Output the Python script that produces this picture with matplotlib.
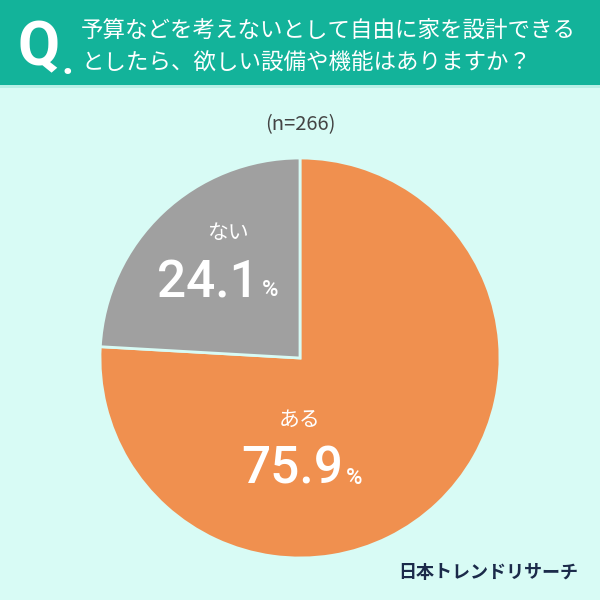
import matplotlib
matplotlib.use('Agg')
import matplotlib.pyplot as plt
from matplotlib.patches import Rectangle

plt.rcParams['font.family'] = ['Noto Sans CJK JP', 'DejaVu Sans']

# データ
labels = ['ある', 'ない']
values = [75.9, 24.1]
colors = ['#f0904f', '#a0a0a0']
question = ['予算などを考えないとして自由に家を設計できる',
            'としたら、欲しい設備や機能はありますか？']
n_text = '(n=266)'
source = '日本トレンドリサーチ'

bg = '#d8fbf5'
teal = '#13b39a'
num_font = ['Roboto', 'DejaVu Sans']

fig = plt.figure(figsize=(6, 6), dpi=100)
fig.patch.set_facecolor(bg)

# ヘッダー
fig.patches.append(Rectangle((0, 1 - 85 / 600), 1, 85 / 600, transform=fig.transFigure,
                             facecolor=teal, edgecolor='none', zorder=0))
fig.patches.append(Rectangle((0, 1 - 88 / 600), 1, 3 / 600, transform=fig.transFigure,
                             facecolor='#b8f0e6', edgecolor='none', zorder=0))
fig.text(18 / 600, 1 - 48 / 600, 'Q', color='white', fontsize=44, fontweight='bold',
         ha='left', va='center', family=num_font)
fig.text(62 / 600, 1 - 62 / 600, '.', color='white', fontsize=30, fontweight='bold',
         ha='left', va='center', family=num_font)
fig.text(81 / 600, 1 - 30 / 600, question[0], color='white', fontsize=16.2,
         ha='left', va='center')
fig.text(81 / 600, 1 - 63 / 600, question[1], color='white', fontsize=16.2,
         ha='left', va='center')

fig.text(0.5, 1 - 125 / 600, n_text, color='#444444', fontsize=14.5,
         ha='center', va='center')

# 円グラフ
r = 200 / 600
cy = 1 - 358 / 600
ax = fig.add_axes([0.5 - r, cy - r, 2 * r, 2 * r])
ax.pie(values, colors=colors, startangle=90, counterclock=False,
       wedgeprops=dict(edgecolor=bg, linewidth=2))
ax.set_xlim(-1, 1)
ax.set_ylim(-1, 1)
ax.set_aspect('equal')
ax.axis('off')

# ラベル
fig.text(228 / 600, 1 - 233 / 600, labels[1], color='white', fontsize=15,
         ha='center', va='center')
fig.text(259 / 600, 1 - 283 / 600, '24.1', color='white', fontsize=37,
         fontweight='medium', ha='right', va='center', family=num_font)
fig.text(262 / 600, 1 - 291 / 600, '%', color='white', fontsize=16,
         fontweight='medium', ha='left', va='center', family=num_font)

fig.text(300 / 600, 1 - 420 / 600, labels[0], color='white', fontsize=15,
         ha='center', va='center')
fig.text(343 / 600, 1 - 470 / 600, '75.9', color='white', fontsize=37,
         fontweight='medium', ha='right', va='center', family=num_font)
fig.text(346 / 600, 1 - 478 / 600, '%', color='white', fontsize=16,
         fontweight='medium', ha='left', va='center', family=num_font)

fig.text(578 / 600, 1 - 572 / 600, source, color='#1b2a4a', fontsize=13,
         fontweight='bold', ha='right', va='center')

fig.savefig('out.png', dpi=100, facecolor=bg)
